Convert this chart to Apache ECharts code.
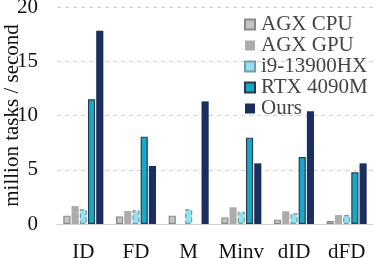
<!DOCTYPE html>
<html><head><meta charset="utf-8">
<script src="https://cdn.jsdelivr.net/npm/echarts@6/dist/echarts.min.js"></script>
<style>html,body{margin:0;padding:0;background:#fff}#c{width:374px;height:258px}</style>
</head><body><div id="c"></div>
<script>
const categories = ['ID','FD','M','Minv','dID','dFD'];
const agxCpu = [0.77, 0.68, 0.77, 0.61, 0.40, 0.28];
const agxGpu = [1.66, 1.20, 0, 1.54, 1.17, 0.83];
const i9 = [1.35, 1.26, 1.35, 1.14, 0.98, 0.83];
const rtx = [11.5, 8.05, 0, 7.96, 6.17, 4.76];
const ours = [17.8, 5.35, 11.3, 5.59, 10.4, 5.59];
const yTicks = [0, 5, 10, 15, 20];

const F = "'Liberation Serif', serif";
const chart = echarts.init(document.getElementById('c'));
function s(name, data, color, border, btype, bw){
  return {name, type:'bar', data: data.map(v => v === 0 ? null : v), barGap:'15%', barCategoryGap:'24%',
    itemStyle:{color, borderColor:border, borderWidth:bw, borderType:btype}};
}
chart.setOption({
  animation:false,
  grid:{left:57, right:1, top:7, bottom:34, containLabel:false, outerBoundsMode:'none'},
  legend:{left:239, top:9, orient:'vertical', icon:'rect', itemWidth:10, itemHeight:10, itemGap:0,
    textStyle:{fontFamily:F, fontSize:21, color:'#444', lineHeight:21, padding:[0,0,0,1]},
    data:['AGX CPU','AGX GPU','i9-13900HX','RTX 4090M','Ours']},
  xAxis:{type:'category', data:categories,
    axisLine:{lineStyle:{color:'#d0d0d0'}}, axisTick:{show:false},
    axisLabel:{fontFamily:F, fontSize:21, color:'#111', margin:18, interval:0}},
  yAxis:{type:'value', min:yTicks[0], max:yTicks[yTicks.length-1], interval:5,
    name:'million tasks / second', nameLocation:'middle', nameGap:34, nameMoveOverlap:false,
    nameTextStyle:{fontFamily:F, fontSize:21, color:'#111'},
    axisLine:{show:false}, axisTick:{show:false},
    axisLabel:{fontFamily:F, fontSize:21, color:'#111', margin:19},
    splitLine:{lineStyle:{color:'#d0d0d0', type:[4,4]}}},
  series:[
    s('AGX CPU', agxCpu, '#c4c4c4', '#8a8a8a', 'solid', 1.2),
    s('AGX GPU', agxGpu, '#acacac', '#acacac', 'solid', 0),
    s('i9-13900HX', i9, '#8fe3f3', '#7a9aa6', 'dashed', 1.2),
    s('RTX 4090M', rtx, '#18a8c9', '#2a3c4a', 'solid', 1.2),
    s('Ours', ours, '#1a2f5f', '#1a2f5f', 'solid', 0)
  ]
});
</script></body></html>
